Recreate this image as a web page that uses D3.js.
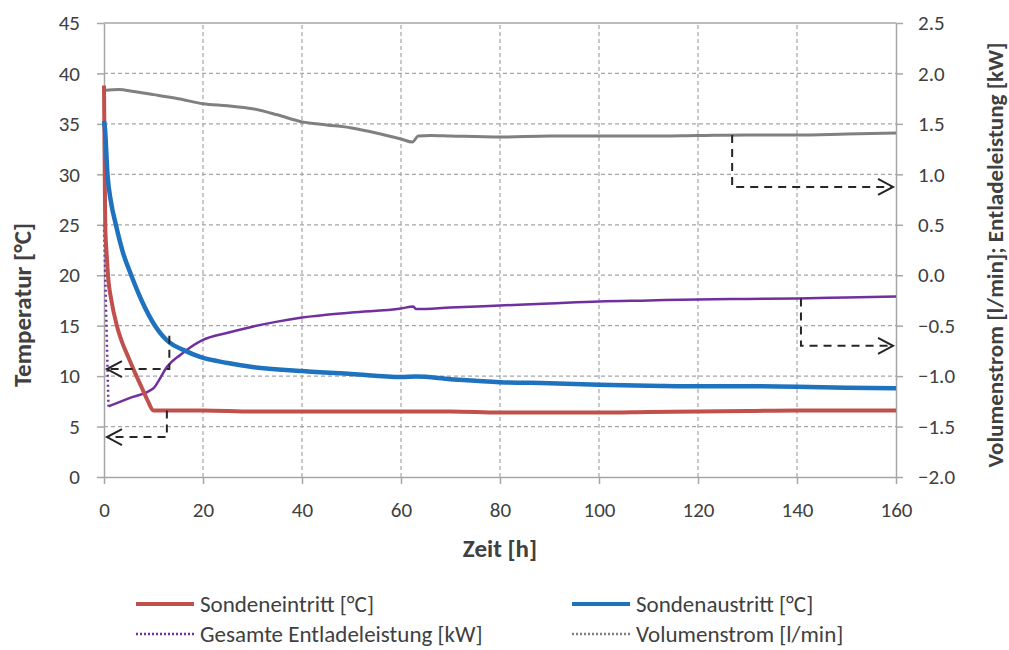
<!DOCTYPE html>
<html><head><meta charset="utf-8">
<script src="https://cdn.jsdelivr.net/npm/d3@7"></script>
<style>
body{margin:0;background:#fff}
text{font-family:Carlito, Lato, "Liberation Sans", sans-serif;fill:#404040}
</style>
</head><body>
<svg id="c" width="1009" height="650"></svg>
<script>
// ---- data ----
const xTicks = [0,20,40,60,80,100,120,140,160];
const leftTicks = [0,5,10,15,20,25,30,35,40,45];
const rightTicks = [-2.0,-1.5,-1.0,-0.5,0.0,0.5,1.0,1.5,2.0,2.5];

const inletHours = [0,0.15,0.25,0.55,0.8,1.5,2.6,3.7,4.9,6.2,7.6,8.8,10,12,20,30,40,50,60,70,80,90,100,110,120,130,140,150,160];
const inletTemp  = [38.8,30,25,22,20,17.5,15,13.3,11.9,10.4,8.9,7.6,6.6,6.6,6.6,6.5,6.5,6.5,6.5,6.5,6.4,6.4,6.4,6.45,6.5,6.55,6.6,6.6,6.6];

const outletHours = [0,0.2,0.7,1.4,2.4,3.8,5.5,7.6,10.3,13.3,16,19.4,25,30,40,50,60,63,70,80,90,100,110,120,130,140,150,160];
const outletTemp  = [35.3,34.5,30,27.3,25,22.3,20,17.5,15,13.3,12.6,11.9,11.3,10.9,10.5,10.2,9.9,9.95,9.7,9.4,9.3,9.15,9.05,9.0,9.0,8.95,8.85,8.8];

const powerHours = [0,0.9,5,10,11,12.7,15.4,20,25,30,35,40,50,60,62.5,63,70,80,90,100,110,120,130,140,150,160];
const powerKW    = [0.5,-1.30,-1.22,-1.12,-1.05,-0.91,-0.79,-0.64,-0.57,-0.51,-0.46,-0.42,-0.37,-0.33,-0.31,-0.335,-0.32,-0.30,-0.28,-0.26,-0.25,-0.24,-0.235,-0.23,-0.22,-0.21];

const flowHours = [0,3,6,10,15,20,25,30,35,40,45,50,55,60,62.3,63.5,66,70,80,90,100,110,120,130,140,150,160];
const flowLmin  = [1.83,1.84,1.82,1.79,1.75,1.70,1.68,1.65,1.59,1.52,1.49,1.46,1.41,1.35,1.32,1.38,1.385,1.38,1.37,1.38,1.38,1.38,1.385,1.39,1.39,1.40,1.41];

// annotation arrows (axis: 'L' left / 'R' right; points in data units)
const arrowAxis = ['L','L','R','R'];
const arrowT0   = [13.2,12.7,126.9,140.8];
const arrowV0   = [14.0,6.6,1.39,-0.23];
const arrowV1   = [10.7,3.96,0.875,-0.70];
const arrowT1   = [0.6,0.6,159.4,159.4];

const seriesNames = ["Sondeneintritt [°C]","Sondenaustritt [°C]","Gesamte Entladeleistung [kW]","Volumenstrom [l/min]"];
const seriesColors = ["#C0504D","#1F72BE","#7030A0","#808080"];

// ---- chart ----
const svg = d3.select("#c");
const x = d3.scaleLinear().domain([0,160]).range([104,896]);
const yL = d3.scaleLinear().domain([0,45]).range([477,23]);
const yR = d3.scaleLinear().domain([-2,2.5]).range([477,23]);
const gridC = "#a6a6a6";
const FF = "Carlito, Lato, 'Liberation Sans', sans-serif";

// gridlines
svg.append("g").selectAll("line").data(leftTicks.slice(1,-1)).join("line")
  .attr("x1",x(0)).attr("x2",x(160)).attr("y1",d=>yL(d)).attr("y2",d=>yL(d))
  .attr("stroke",gridC).attr("stroke-width",1.2).attr("stroke-dasharray","4,3");
svg.append("g").selectAll("line").data(xTicks.slice(1,-1)).join("line")
  .attr("y1",yL(0)).attr("y2",yL(45)).attr("x1",d=>x(d)).attr("x2",d=>x(d))
  .attr("stroke",gridC).attr("stroke-width",1.2).attr("stroke-dasharray","4,3");
svg.append("line").attr("x1",x(0)).attr("x2",x(160)).attr("y1",yL(45)).attr("y2",yL(45))
  .attr("stroke",gridC).attr("stroke-width",1.5);

function styleAxis(g){
  g.select(".domain").attr("stroke",gridC).attr("stroke-width",1.5);
  g.selectAll(".tick line").attr("stroke",gridC).attr("stroke-width",1.5);
  g.selectAll(".tick text").attr("font-size",21).attr("fill","#404040").attr("font-family",FF);
}
svg.append("g").attr("transform",`translate(0,${yL(0)})`)
  .call(d3.axisBottom(x).tickValues(xTicks).tickSize(7).tickPadding(18).tickSizeOuter(0)).call(styleAxis);
svg.append("g").attr("transform",`translate(${x(0)},0)`)
  .call(d3.axisLeft(yL).tickValues(leftTicks).tickSize(7).tickPadding(17).tickSizeOuter(0)).call(styleAxis);
svg.append("g").attr("transform",`translate(${x(160)},0)`)
  .call(d3.axisRight(yR).tickValues(rightTicks).tickFormat(d3.format(".1f")).tickSize(7).tickPadding(15).tickSizeOuter(0)).call(styleAxis);

// series
const zip = (a,b)=>a.map((v,i)=>[v,b[i]]);
const lineL = d3.line().x(d=>x(d[0])).y(d=>yL(d[1])).curve(d3.curveMonotoneX);
const lineR = d3.line().x(d=>x(d[0])).y(d=>yR(d[1])).curve(d3.curveMonotoneX);

const flow = zip(flowHours,flowLmin);
svg.append("path").attr("d",lineR(flow)).attr("fill","none").attr("stroke",seriesColors[3]).attr("stroke-width",3).attr("stroke-linejoin","round");

const power = zip(powerHours,powerKW);
svg.append("path").attr("d",d3.line().x(d=>x(d[0])).y(d=>yR(d[1]))(power.slice(0,2))).attr("fill","none").attr("stroke",seriesColors[2]).attr("stroke-width",2.5).attr("stroke-dasharray","2,3");
svg.append("path").attr("d",lineR(power.slice(1))).attr("fill","none").attr("stroke",seriesColors[2]).attr("stroke-width",2.5).attr("stroke-linejoin","round");

svg.append("path").attr("d",lineL(zip(inletHours,inletTemp))).attr("fill","none").attr("stroke",seriesColors[0]).attr("stroke-width",4).attr("stroke-linejoin","round");
svg.append("path").attr("d",lineL(zip(outletHours,outletTemp))).attr("fill","none").attr("stroke",seriesColors[1]).attr("stroke-width",4.5).attr("stroke-linejoin","round");

// arrows
arrowAxis.forEach((ax,i)=>{
  const ys = ax==='L'?yL:yR;
  const xa = x(arrowT0[i]), ya0 = ys(arrowV0[i]), ya1 = ys(arrowV1[i]), xb = x(arrowT1[i]);
  svg.append("path").attr("d",`M${xa},${ya0}V${ya1}H${xb}`).attr("fill","none")
    .attr("stroke","#262626").attr("stroke-width",2).attr("stroke-dasharray","8,6");
  const dir = xb<xa?1:-1;
  svg.append("path").attr("d",`M${xb+dir*15},${ya1-8}L${xb},${ya1}L${xb+dir*15},${ya1+8}`)
    .attr("fill","none").attr("stroke","#262626").attr("stroke-width",2);
});

// axis titles
svg.append("text").attr("x",x(80)).attr("y",557).attr("text-anchor","middle")
  .attr("font-size",25).attr("font-weight","bold").text("Zeit [h]");
svg.append("text").attr("transform",`translate(31,305) rotate(-90)`).attr("text-anchor","middle")
  .attr("font-size",25).attr("font-weight","bold").text("Temperatur [°C]");
svg.append("text").attr("transform",`translate(1003,${yL(22.5)+5}) rotate(-90)`).attr("text-anchor","middle")
  .attr("font-size",23).attr("font-weight","bold").text("Volumenstrom [l/min]; Entladeleistung [kW]");

// legend
const legX = [136,572,136,572], legY = [604,604,634,634];
const legDash = [null,null,"2,2","2,2"], legW = [4,4,2.5,2.5];
seriesNames.forEach((n,i)=>{
  svg.append("line").attr("x1",legX[i]).attr("x2",legX[i]+58).attr("y1",legY[i]).attr("y2",legY[i])
    .attr("stroke",seriesColors[i]).attr("stroke-width",legW[i]).attr("stroke-dasharray",legDash[i]);
  svg.append("text").attr("x",legX[i]+64).attr("y",legY[i]+8).attr("font-size",23).text(n);
});
</script>
</body></html>
